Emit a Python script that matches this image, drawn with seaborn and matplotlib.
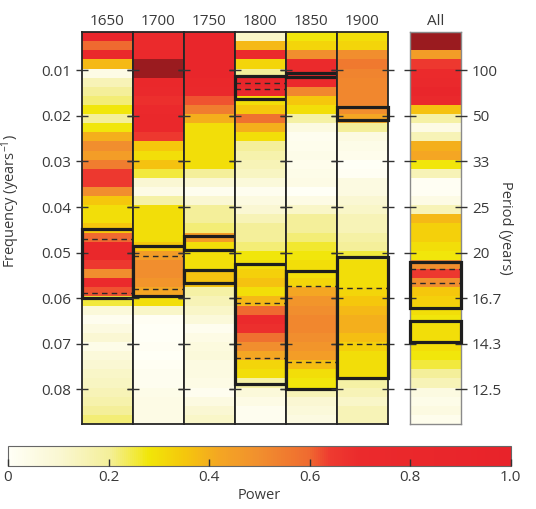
import numpy as np
import matplotlib
matplotlib.use('Agg')
import matplotlib.pyplot as plt
from matplotlib.colors import LinearSegmentedColormap
from matplotlib.patches import Rectangle
import seaborn as sns

# frequency bins (years^-1), top of the panel downwards
f_start = 0.0016
f_step = 0.002

decades = ['1650', '1700', '1750', '1800', '1850', '1900']

# power per frequency bin
power_1650 = [0.9, 0.6, 0.8, 0.38, 0.05, 0.15, 0.2, 0.22, 0.28, 0.2, 0.28, 0.4, 0.5, 0.45, 0.55,
              0.65, 0.65, 0.5, 0.35, 0.3, 0.3, 0.35, 0.6, 0.8, 0.8, 0.65, 0.5, 0.7, 0.62, 0.25,
              0.08, 0.02, 0.06, 0.1, 0.04, 0.08, 0.1, 0.12, 0.13, 0.15, 0.17, 0.2, 0.22]
power_1700 = [0.7, 0.7, 0.75, 1.1, 1.1, 0.8, 0.75, 0.68, 0.72, 0.78, 0.8, 0.65, 0.35, 0.3, 0.36,
              0.25, 0.1, 0.05, 0.18, 0.3, 0.3, 0.3, 0.3, 0.35, 0.45, 0.5, 0.5, 0.48, 0.42, 0.3,
              0.12, 0.01, 0.0, 0.0, 0.01, 0.0, 0.01, 0.02, 0.02, 0.04, 0.05, 0.05, 0.05]
power_1750 = [0.85, 0.85, 0.85, 0.85, 0.85, 0.8, 0.75, 0.62, 0.55, 0.4, 0.3, 0.3, 0.3, 0.3, 0.3,
              0.2, 0.1, 0.02, 0.1, 0.2, 0.2, 0.22, 0.45, 0.3, 0.3, 0.3, 0.36, 0.36, 0.18, 0.15,
              0.12, 0.08, 0.02, 0.05, 0.07, 0.08, 0.06, 0.06, 0.05, 0.02, 0.06, 0.1, 0.12]
power_1800 = [0.12, 0.38, 0.7, 0.32, 0.2, 0.85, 0.75, 0.3, 0.35, 0.58, 0.4, 0.3, 0.2, 0.17, 0.15,
              0.13, 0.08, 0.02, 0.06, 0.1, 0.15, 0.2, 0.2, 0.22, 0.28, 0.3, 0.33, 0.36, 0.3, 0.38,
              0.6, 0.7, 0.68, 0.58, 0.5, 0.42, 0.32, 0.3, 0.18, 0.08, 0.05, 0.02, 0.02]
power_1850 = [0.28, 0.32, 0.5, 0.7, 0.7, 0.7, 0.52, 0.35, 0.3, 0.18, 0.06, 0.02, 0.03, 0.04, 0.03,
              0.04, 0.05, 0.0, 0.05, 0.12, 0.2, 0.2, 0.22, 0.26, 0.28, 0.3, 0.3, 0.32, 0.42, 0.48,
              0.5, 0.52, 0.52, 0.5, 0.48, 0.45, 0.37, 0.3, 0.28, 0.15, 0.1, 0.08, 0.06]
power_1900 = [0.3, 0.32, 0.5, 0.56, 0.53, 0.52, 0.52, 0.52, 0.5, 0.42, 0.2, 0.06, 0.04, 0.03, 0.0,
              0.01, 0.06, 0.06, 0.1, 0.12, 0.15, 0.15, 0.18, 0.2, 0.25, 0.3, 0.3, 0.3, 0.32, 0.35,
              0.38, 0.4, 0.4, 0.37, 0.33, 0.3, 0.3, 0.3, 0.18, 0.15, 0.12, 0.15, 0.15]
power_all = [1.15, 1.12, 0.45, 0.65, 0.7, 0.75, 0.85, 0.75, 0.36, 0.18, 0.05, 0.15, 0.4, 0.42, 0.28,
             0.15, 0.01, 0.01, 0.05, 0.15, 0.38, 0.33, 0.33, 0.3, 0.28, 0.5, 0.65, 0.5, 0.35, 0.33,
             0.3, 0.28, 0.3, 0.3, 0.3, 0.28, 0.25, 0.2, 0.15, 0.06, 0.04, 0.06, 0.03]
powers = [power_1650, power_1700, power_1750, power_1800, power_1850, power_1900]

# significant bands (frequency limits) and the dashed lines inside them
sig_lo = [[0.0449], [0.0486], [0.0464, 0.0537], [0.0112, 0.0526], [0.0106, 0.0540], [0.0181, 0.0509]]
sig_hi = [[0.0600], [0.0596], [0.0495, 0.0566], [0.0163, 0.0788], [0.0114, 0.0799], [0.0210, 0.0775]]
dash_freqs = [[0.0469, 0.0588], [0.0508, 0.0580], [], [0.0127, 0.0142, 0.0611, 0.0732],
              [0.0574, 0.0739], [0.0577, 0.0700]]
all_lo = [0.0521, 0.0650]
all_hi = [0.0622, 0.0695]
all_dash = [0.0536, 0.0567]

freq_ticks = [0.01, 0.02, 0.03, 0.04, 0.05, 0.06, 0.07, 0.08]
freq_labels = ['0.01', '0.02', '0.03', '0.04', '0.05', '0.06', '0.07', '0.08']
period_labels = ['100', '50', '33', '25', '20', '16.7', '14.3', '12.5']

cbar_ticks = [0, 0.2, 0.4, 0.6, 0.8, 1.0]
cbar_labels = ['0', '0.2', '0.4', '0.6', '0.8', '1.0']

sns.set_style('white')
plt.rcParams['font.family'] = ['Open Sans', 'DejaVu Sans']
plt.rcParams['mathtext.default'] = 'regular'

text_col = '#3a3a3a'
line_col = '#262626'

cmap = LinearSegmentedColormap.from_list('power', [
    (0.0, '#fffff6'), (0.1, '#faf7d2'), (0.2, '#f4ef9a'), (0.28, '#f1e608'),
    (0.35, '#f5c70c'), (0.42, '#f4a623'), (0.5, '#f18f2e'), (0.6, '#ef6a30'),
    (0.64, '#ee3b30'), (0.7, '#eb2a2c'), (1.0, '#e8232a')]).with_extremes(over='#9a1b1f')


def to_row(f):
    '''frequency -> heatmap row coordinate'''
    return (np.asarray(f) - f_start) / f_step


def style_column(ax, spine_col, lw):
    ax.set_axisbelow(False)
    for s in ax.spines.values():
        s.set_visible(True)
        s.set_color(spine_col)
        s.set_linewidth(lw)
    ax.set_xticks([])
    ax.set_yticks(to_row(freq_ticks))
    ax.tick_params(axis='y', left=True, right=True, direction='inout', length=8,
                   width=1, color='#333333', labelleft=False, labelright=False,
                   labelcolor=text_col, labelsize=11)


def draw_bands(ax, lo, hi, dashes):
    for a, b in zip(lo, hi):
        r0, r1 = to_row(a), to_row(b)
        ax.add_patch(Rectangle((0, r0), 1, r1 - r0, fill=False, lw=2.3,
                               edgecolor='#1e1e1e', clip_on=False, zorder=5))
    for d in dashes:
        ax.hlines(to_row(d), 0, 1, colors='#2a2a2a', lw=1, linestyles=(0, (4, 3)), zorder=4)


fig = plt.figure(figsize=(5.36, 5.09), dpi=100)
cax = fig.add_axes([0.0149, 0.0845, 0.938, 0.0393])

left0, colw, bot, hgt = 0.153, 0.0951, 0.167, 0.770
cbar = None
for i, name in enumerate(decades):
    ax = fig.add_axes([left0 + i * colw, bot, colw, hgt])
    data = np.array(powers[i]).reshape(-1, 1)
    sns.heatmap(data, ax=ax, cmap=cmap, vmin=0, vmax=1,
                cbar=(i == 0), cbar_ax=cax if i == 0 else None,
                cbar_kws={'orientation': 'horizontal'},
                xticklabels=False, yticklabels=False)
    if i == 0:
        cbar = ax.collections[0].colorbar
    style_column(ax, line_col, 1.3)
    draw_bands(ax, sig_lo[i], sig_hi[i], dash_freqs[i])
    ax.set_title(name, fontsize=11, pad=5, color=text_col)
    if i == 0:
        ax.tick_params(axis='y', labelleft=True, pad=4)
        ax.set_yticklabels(freq_labels)
        ax.set_ylabel('Frequency (years$^{-1}$)', fontsize=10.5, color=text_col)
        ax.yaxis.set_label_coords(-1.18, 0.57)

# all years combined
ax_all = fig.add_axes([0.765, bot, colw, hgt])
sns.heatmap(np.array(power_all).reshape(-1, 1), ax=ax_all, cmap=cmap, vmin=0, vmax=1,
            cbar=False, xticklabels=False, yticklabels=False)
style_column(ax_all, '#8a8a8a', 1.0)
draw_bands(ax_all, all_lo, all_hi, all_dash)
ax_all.set_title('All', fontsize=11, pad=5, color=text_col)
ax_all.tick_params(axis='y', labelright=True, pad=4)
ax_all.set_yticklabels(period_labels)
ax_all.yaxis.set_label_position('right')
ax_all.set_ylabel('Period (years)', rotation=270, fontsize=10.5, color=text_col)
ax_all.yaxis.set_label_coords(2.02, 0.5)

# colour bar
cbar.set_ticks(cbar_ticks)
cbar.set_ticklabels(cbar_labels)
cbar.ax.set_axisbelow(False)
cbar.ax.tick_params(axis='x', which='major', direction='in', length=5, width=1,
                    color='#333333', labelsize=11, labelcolor=text_col, pad=3, bottom=True)
cbar.ax.tick_params(axis='x', which='minor', length=0)
cbar.set_label('Power', fontsize=10.5, color=text_col, labelpad=2)
cbar.outline.set_visible(True)
cbar.outline.set_edgecolor('#666666')
cbar.outline.set_linewidth(0.8)

fig.savefig('out.png', dpi=100)
